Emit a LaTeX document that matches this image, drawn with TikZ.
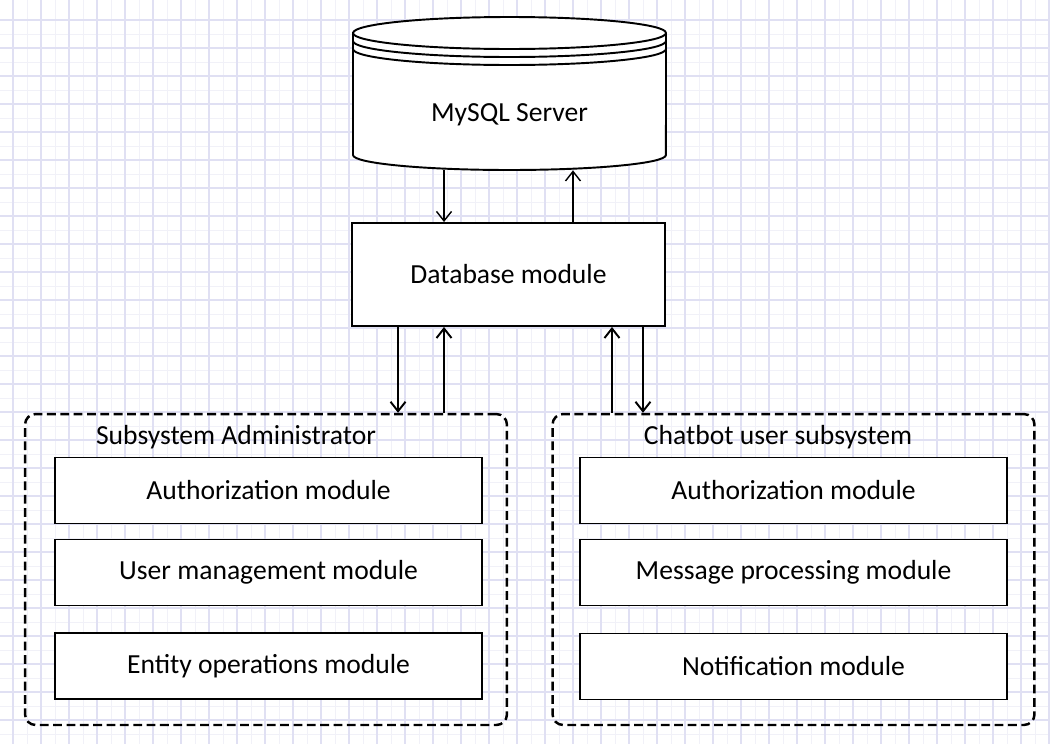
\documentclass[tikz,border=0pt]{standalone}
\usepackage{fontspec}
\setmainfont{Carlito}
\usetikzlibrary{arrows.meta,positioning}
\definecolor{gridmaj}{RGB}{224,224,243}
\definecolor{gridmin}{RGB}{241,241,248}

\begin{document}
\begin{tikzpicture}[
  x=0.02cm,y=-0.02cm,
  font=\fontsize{15.7}{18}\selectfont,
  module/.style={draw,line width=1.1pt,fill=white,minimum width=8.54cm,minimum height=1.32cm},
  dbbox/.style={draw,line width=1.1pt,fill=white,minimum width=6.26cm,minimum height=2.06cm},
  subsys/.style={draw,line width=1.4pt,dash pattern=on 5pt off 2.6pt,rounded corners=6pt,
    minimum width=9.64cm,minimum height=6.22cm},
  flow/.style={-{Straight Barb[length=1.9mm,width=3mm]},line width=0.8pt},
  flowb/.style={flow,line width=1.1pt}]
\path[use as bounding box] (0,0) rectangle (1050,744);
% background grid
\fill[white] (0,0) rectangle (1050,744);
\foreach \gx in {27,55,...,1050} \draw[gridmin,line width=0.4pt] (\gx,0) -- (\gx,744);
\foreach \gy in {34,62,...,744} \draw[gridmin,line width=0.4pt] (0,\gy) -- (1050,\gy);
\foreach \gx in {13,41,...,1050} \draw[gridmaj,line width=0.6pt] (\gx,0) -- (\gx,744);
\foreach \gy in {20,48,...,744} \draw[gridmaj,line width=0.6pt] (0,\gy) -- (1050,\gy);

% database cylinder
\filldraw[fill=white,line width=1.1pt] (353,33) -- (353,155)
  arc[start angle=180,end angle=360,x radius=3.13cm,y radius=0.3cm] -- (666,33)
  arc[start angle=0,end angle=180,x radius=3.13cm,y radius=0.32cm] -- cycle;
\foreach \ry in {33,41,49}
  \draw[line width=1.1pt] (353,\ry) arc[start angle=180,end angle=360,x radius=3.13cm,y radius=0.32cm];
\node[minimum width=6.26cm,minimum height=2.2cm] (mysql) at (509.5,115) {MySQL Server};

\node[dbbox] (db) at (508.5,274.5) {Database module};
\draw[flow] ([xshift=-1.29cm]db.north |- mysql.south) -- ([xshift=-1.29cm]db.north);
\draw[flow] ([xshift=1.29cm]db.north) -- ([xshift=1.29cm]db.north |- mysql.south);

% subsystems
\node[subsys] (admin) at (266,569.5) {};
\node[subsys] (chatbot) at (793.5,569.5) {};
\node (admintitle) at (236,437) {Subsystem Administrator};
\node (chatbottitle) at (778,437) {Chatbot user subsystem};

\node[module] (adminauth) at (268.5,490.5) {Authorization module};
\node[module] (usermgmt) at (268.5,572.5) {User management module};
\node[module] (entityops) at (268.5,666) {Entity operations module};

\node[module] (chatauth) at (793.5,490.5) {Authorization module};
\node[module] (msgproc) at (793.5,572.5) {Message processing module};
\node[module] (notify) at (793.5,666.5) {Notification module};

\draw[flowb] ([xshift=-2.21cm]db.south) -- ([xshift=-2.21cm]db.south |- admin.north);
\draw[flowb] ([xshift=-1.29cm]db.south |- admin.north) -- ([xshift=-1.29cm]db.south);
\draw[flowb] ([xshift=2.07cm]db.south |- chatbot.north) -- ([xshift=2.07cm]db.south);
\draw[flowb] ([xshift=2.69cm]db.south) -- ([xshift=2.69cm]db.south |- chatbot.north);
\end{tikzpicture}
\end{document}
